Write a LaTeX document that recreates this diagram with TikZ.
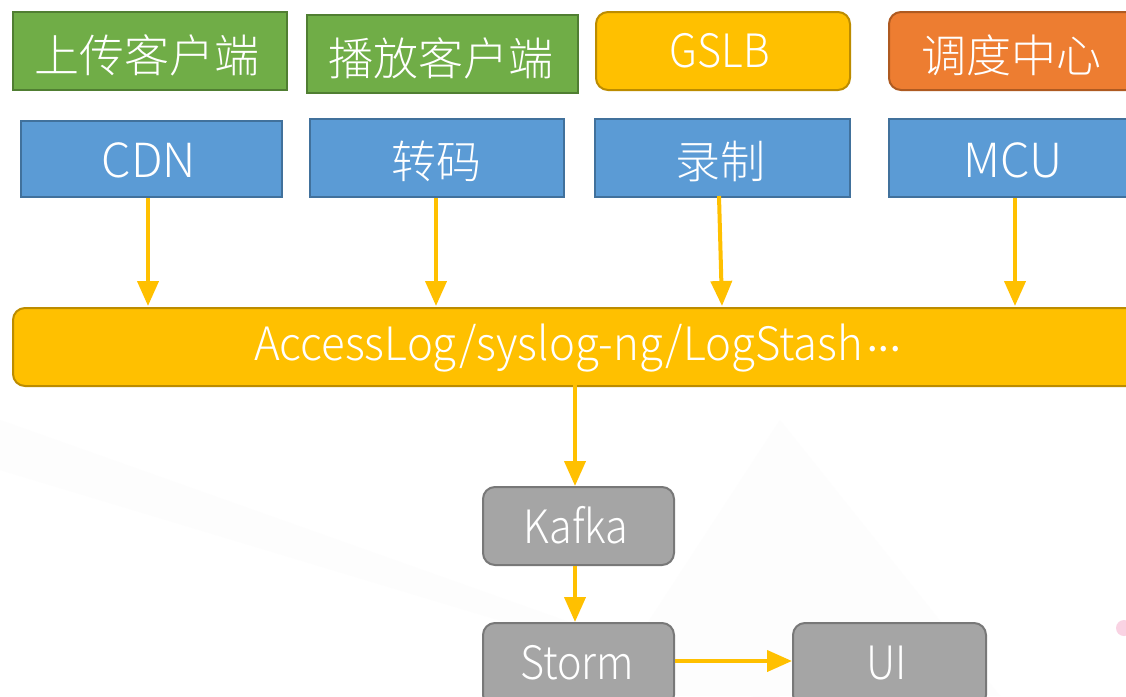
\documentclass[tikz,border=0pt]{standalone}
\usepackage{fontspec}
\IfFontExistsTF{Noto Sans CJK SC Light}{%
  \setmainfont{Noto Sans CJK SC Light}
  \newfontfamily\lat{Noto Sans CJK SC Light}[FakeStretch=0.9]
  \newfontfamily\latl{Noto Sans CJK SC Light}[FakeStretch=0.95]
  \newfontfamily\latw{Noto Sans CJK SC Light}
}{%
  \setmainfont{Noto Sans CJK SC}
  \newfontfamily\lat{Noto Sans CJK SC}[FakeStretch=0.9]
  \newfontfamily\latl{Noto Sans CJK SC}[FakeStretch=0.95]
  \newfontfamily\latw{Noto Sans CJK SC}
}
\usetikzlibrary{arrows.meta}
\definecolor{cgreen}{HTML}{70AD47}
\definecolor{cgreenb}{HTML}{507E32}
\definecolor{cyellow}{HTML}{FFC000}
\definecolor{cyellowb}{HTML}{BC8C00}
\definecolor{corange}{HTML}{ED7D31}
\definecolor{corangeb}{HTML}{AE5A21}
\definecolor{cblue}{HTML}{5B9BD5}
\definecolor{cblueb}{HTML}{41719C}
\definecolor{cgray}{HTML}{A5A5A5}
\definecolor{cgrayb}{HTML}{787878}
\definecolor{cpink}{HTML}{F9D3E3}
\tikzset{
  box/.style={draw, line width=2pt, text=white, inner sep=0pt, anchor=north west},
  greenbox/.style={box, fill=cgreen, draw=cgreenb},
  bluebox/.style={box, fill=cblue, draw=cblueb},
  yellowbox/.style={box, fill=cyellow, draw=cyellowb, rounded corners=12pt},
  orangebox/.style={box, fill=corange, draw=corangeb, rounded corners=12pt},
  graybox/.style={box, fill=cgray, draw=cgrayb, rounded corners=12pt},
  latin/.style={font=\lat\fontsize{46}{50}\selectfont},
  latinw/.style={font=\latw\fontsize{47}{50}\selectfont},
  cjk/.style={font=\fontsize{45}{48}\selectfont},
  lbl/.style={text=white, inner sep=0pt},
  flow/.style={draw=cyellow, line width=4pt, -{Triangle[width=21pt,length=25pt]}}
}
\begin{document}
\begin{tikzpicture}[x=1pt,y=-1pt]
\useasboundingbox (0,0) rectangle (1126,696);
\fill[white] (0,0) rectangle (1126,696);
% faint background decoration
\fill[black!0.8] (0,420) -- (930,750) -- (0,470) -- cycle;
\fill[black!0.8] (600,696) -- (780,420) -- (1000,696) -- cycle;
\fill[cpink] (1124,628) circle (8);
% top row
\node[greenbox, minimum width=274pt, minimum height=78pt] (up) at (12,11) {};
\node[lbl, cjk] (uptxt) at (147,55) {上传客户端};
\node[greenbox, minimum width=271pt, minimum height=78pt] (play) at (306,14) {};
\node[lbl, cjk] (playtxt) at (441,58) {播放客户端};
\node[yellowbox, minimum width=254pt, minimum height=78pt] (gslb) at (595,11) {};
\node[lbl, latin] (gslbtxt) at (720,51) {GSLB};
\node[orangebox, minimum width=260pt, minimum height=78pt] (sched) at (888,11) {};
\node[lbl, cjk, anchor=west] (schedtxt) at (921,55) {调度中心};
% second row
\node[bluebox, minimum width=261pt, minimum height=76pt] (cdn) at (20,120) {};
\node[lbl, latinw] (cdntxt) at (149,160) {CDN};
\node[bluebox, minimum width=254pt, minimum height=78pt] (trans) at (309,118) {};
\node[lbl, cjk] (transtxt) at (436,161) {转码};
\node[bluebox, minimum width=255pt, minimum height=78pt] (rec) at (594,118) {};
\node[lbl, cjk] (rectxt) at (720,161) {录制};
\node[bluebox, minimum width=260pt, minimum height=78pt] (mcu) at (888,118) {};
\node[lbl, latinw, anchor=west] (mcutxt) at (963,160) {MCU};
% log bar
\node[yellowbox, minimum width=1130pt, minimum height=78pt] (log) at (12,307) {};
\node[lbl, anchor=west, font=\latl\fontsize{46}{50}\selectfont] (logtxt) at (254,348) {AccessLog/syslog-ng/LogStash{\fontsize{30}{30}\selectfont\kern-5pt·\kern-17pt·\kern-17pt·}};
% lower boxes
\node[graybox, minimum width=191pt, minimum height=78pt] (kafka) at (482,486) {};
\node[lbl, latin] (kafkatxt) at (576,525) {Kafka};
\node[graybox, minimum width=191pt, minimum height=84pt] (storm) at (482,622) {};
\node[lbl, latin] (stormtxt) at (577,663) {Storm};
\node[graybox, minimum width=193pt, minimum height=84pt] (ui) at (792,622) {};
\node[lbl, latin] (uitxt) at (887,663) {UI};
% connectors
\coordinate (cdnend) at (148,306);
\coordinate (transend) at (436,306);
\coordinate (recstart) at (719,196);
\coordinate (recend) at (722,306);
\coordinate (mcuend) at (1015,306);
\coordinate (logout) at (575,385);
\draw[flow] (cdn.south -| cdnend) -- (cdnend);
\draw[flow] (trans.south -| transend) -- (transend);
\draw[flow] (recstart) -- (recend);
\draw[flow] (mcu.south -| mcuend) -- (mcuend);
\draw[flow] (logout) -- (kafka.north -| logout);
\draw[flow] (kafka.south -| logout) -- (storm.north -| logout);
\draw[flow] (storm.east |- 0,661) -- (ui.west |- 0,661);
\end{tikzpicture}
\end{document}
